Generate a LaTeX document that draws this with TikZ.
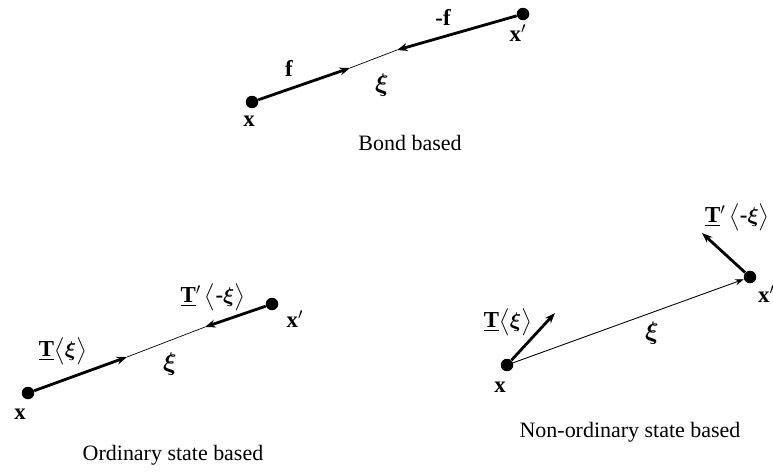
\documentclass[tikz,border=0pt]{standalone}
\usepackage{amsmath,amssymb}
\usepackage{fontspec}
\setmainfont{Liberation Serif}
\usepackage{tikz}
\usetikzlibrary{arrows.meta}

\begin{document}
\begin{tikzpicture}[x=0.02cm, y=-0.02cm,
      font=\fontsize{12.5}{14}\selectfont,
      dot/.style={circle, fill=black, inner sep=0pt, minimum size=0.25cm},
      force/.style={line width=1.6pt, -{Stealth[length=6pt, width=4.5pt]}},
      bond/.style={line width=0.4pt},
      xiarrow/.style={line width=0.5pt, -{Stealth[length=5pt, width=3.5pt]}},
      lbl/.style={font=\fontsize{13}{15}\selectfont\bfseries, inner sep=1pt},
      xilbl/.style={font=\fontsize{15}{17}\selectfont, inner sep=1pt}
    ]
    \clip (0,0) rectangle (773,474);

    % Bond based
    \node[dot] (bx)  at (252,102) {};
    \node[dot] (bxp) at (523,14)  {};
    \coordinate (bf)  at (350,68);
    \coordinate (bmf) at (397,50);
    \draw[force] (bx)  -- (bf);
    \draw[force] (bxp) -- (bmf);
    \draw[bond]  (bf)  -- (bmf);
    \node[lbl] (bxl)  at (249,121) {x};
    \node[lbl] (bxpl) at (518,33)  {x$^{\prime}$};
    \node[lbl] (bfl)  at (289,68)  {f};
    \node[lbl] (bmfl) at (443,17)  {-f};
    \node[xilbl] (bxi) at (382,85) {$\boldsymbol{\xi}$};
    \node (bcap) at (410,143) {Bond based};

    % Ordinary state based
    \node[dot] (ox)  at (28,393)  {};
    \node[dot] (oxp) at (272,304) {};
    \coordinate (of)  at (127,357);
    \coordinate (omf) at (205,327);
    \draw[force] (ox)  -- (of);
    \draw[force] (oxp) -- (omf);
    \draw[bond]  (of)  -- (omf);
    \node[lbl] (oxl)  at (20,414)  {x};
    \node[lbl] (oxpl) at (295,319) {x$^{\prime}$};
    \node[lbl] (ofl)  at (63,351)  {\underline{T}$\big\langle\boldsymbol{\xi}\big\rangle$};
    \node[lbl] (omfl) at (213,297) {\underline{T}$^{\prime}\,\big\langle$-$\boldsymbol{\xi}\big\rangle$};
    \node[xilbl] (oxi) at (170,364) {$\boldsymbol{\xi}$};
    \node (ocap) at (173,455) {Ordinary state based};

    % Non-ordinary state based
    \node[dot] (nx)  at (507,365) {};
    \node[dot] (nxp) at (750,277) {};
    \coordinate (nf)  at (555,313);
    \coordinate (nmf) at (702,233);
    \draw[force]   (nx)  -- (nf);
    \draw[force]   (nxp) -- (nmf);
    \draw[xiarrow] (nx)  -- (nxp);
    \node[lbl] (nxl)  at (500,387) {x};
    \node[lbl, anchor=west] (nxpl) at (756,294) {x$^{\prime}$};
    \node[lbl] (nfl)  at (508,322) {\underline{T}$\big\langle\boldsymbol{\xi}\big\rangle$};
    \node[lbl, anchor=west] (nmfl) at (703,217) {\underline{T}$^{\prime}\,\big\langle$-$\boldsymbol{\xi}\big\rangle$};
    \node[xilbl] (nxi) at (652,333) {$\boldsymbol{\xi}$};
    \node (ncap) at (630,432) {Non-ordinary state based};
  \end{tikzpicture}
\end{document}
